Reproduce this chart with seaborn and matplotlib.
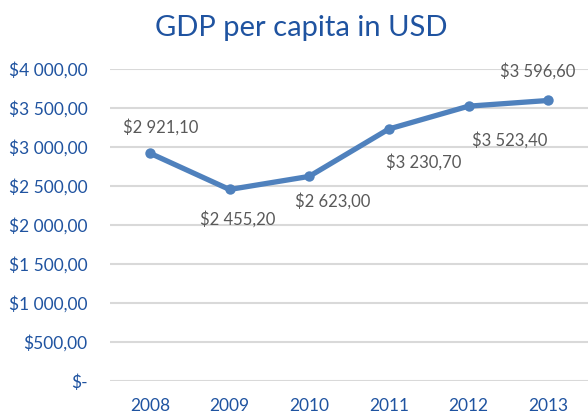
import matplotlib
matplotlib.use("Agg")
import matplotlib.pyplot as plt
import seaborn as sns
import pandas as pd

# GDP per capita figures
years = ["2008", "2009", "2010", "2011", "2012", "2013"]
gdp_per_capita = [2921.10, 2455.20, 2623.00, 3230.70, 3523.40, 3596.60]
y_ticks = [0, 500, 1000, 1500, 2000, 2500, 3000, 3500, 4000]

# where each value label sits relative to its point (pixels)
label_offsets = [(11, 26), (8, -30), (24, -25), (35, -33), (41, -34), (-10, 29)]

BLUE_TEXT = "#1f53a0"
LINE_BLUE = "#4f81bd"
GREY_TEXT = "#595959"
GRID = "#d9d9d9"


def money(v):
    """Format as $1 234,56, with '$-' for zero."""
    if abs(v) < 1e-9:
        return "$-"
    whole, frac = f"{v:,.2f}".split(".")
    return "$" + whole.replace(",", " ") + "," + frac


sns.set_theme(style="white")
plt.rcParams["font.family"] = ["Lato", "DejaVu Sans"]

df = pd.DataFrame({"year": years, "gdp": gdp_per_capita})

fig = plt.figure(figsize=(5.88, 4.16), dpi=100)
ax = fig.add_axes([110 / 588, 35 / 416, 478 / 588, 312 / 416])

sns.lineplot(data=df, x="year", y="gdp", ax=ax, color=LINE_BLUE,
             linewidth=3.8, marker="o", markersize=7.5,
             markeredgecolor=LINE_BLUE, markeredgewidth=0, sort=False)

ax.set_xlim(-0.5, len(years) - 0.5)
ax.set_ylim(0, 4000)
ax.set_yticks(y_ticks)
ax.set_yticklabels([money(v) for v in y_ticks])

for s in ax.spines.values():
    s.set_visible(False)
ax.grid(axis="y", color=GRID, linewidth=1.5)
ax.grid(axis="x", visible=False)
ax.set_axisbelow(True)
ax.tick_params(axis="y", length=0, pad=16, labelsize=12.5, labelcolor=BLUE_TEXT)
ax.tick_params(axis="x", length=0, pad=12, labelsize=12.5, labelcolor=BLUE_TEXT)
ax.set_xlabel("")
ax.set_ylabel("")

for i, (v, (dx, dy)) in enumerate(zip(gdp_per_capita, label_offsets)):
    ax.annotate(money(v), xy=(i, v), xytext=(dx, dy), textcoords="offset pixels",
                ha="center", va="center", fontsize=12, color=GREY_TEXT)

fig.text(301 / 588, 1 - 28 / 416, "GDP per capita in USD", ha="center", va="center",
         fontsize=21, color=BLUE_TEXT)

fig.savefig("out.png", dpi=100)
